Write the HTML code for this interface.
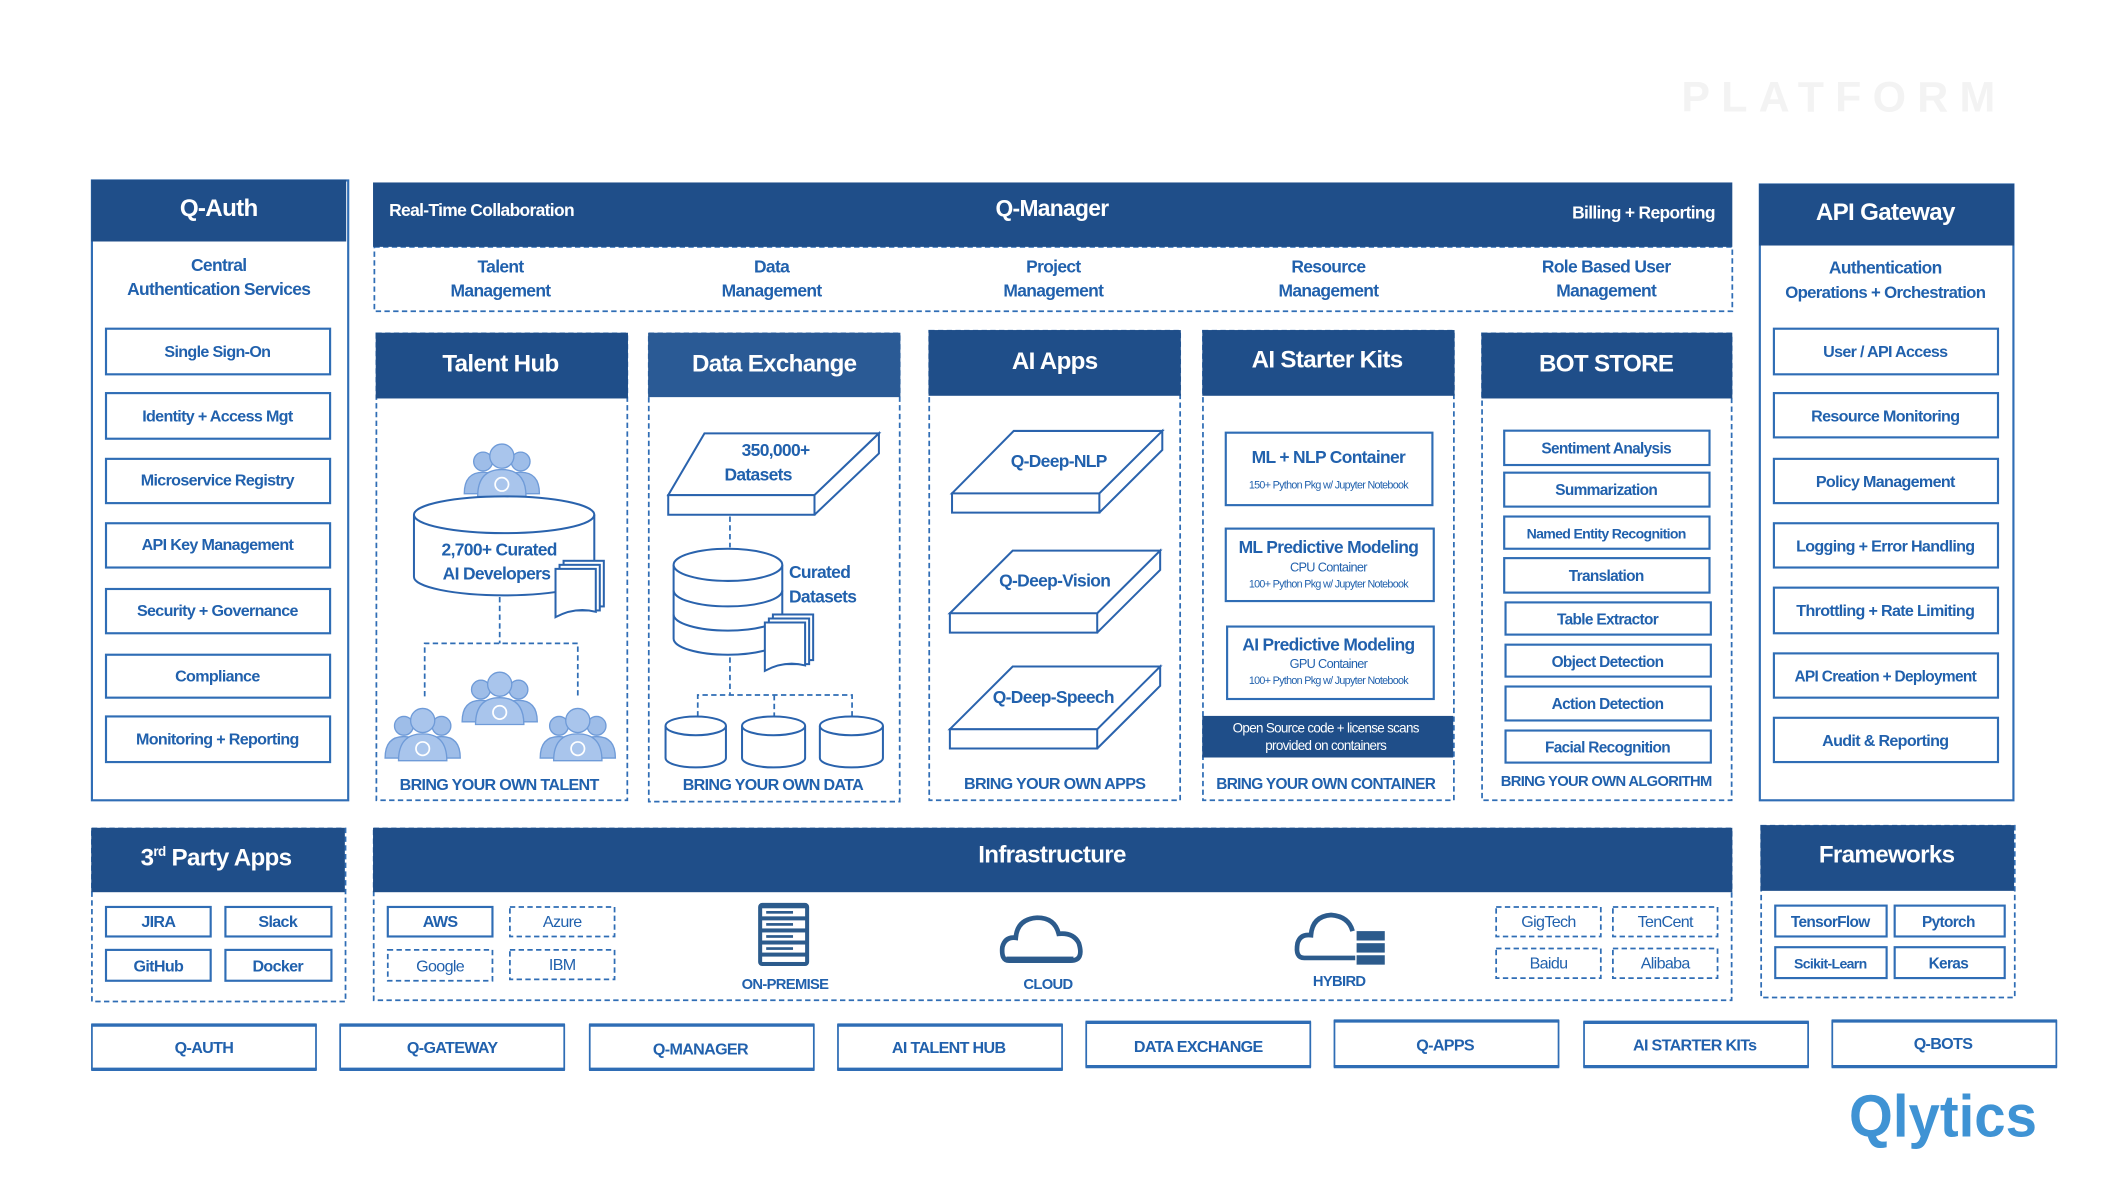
<!DOCTYPE html>
<html><head><meta charset="utf-8"><style>
html,body{margin:0;padding:0;background:#fff;}
svg{display:block}
text{font-family:"Liberation Sans Narrow","Liberation Sans",sans-serif;font-weight:bold;letter-spacing:-0.5px}
.h{fill:#fff;text-anchor:middle}
.t{fill:#2161ad;text-anchor:middle}
.hd{fill:#1f4e89}
.sb{fill:#fff;stroke:#2f6db5;stroke-width:1.6}
.db{fill:none;stroke:#2f6db5;stroke-width:1.3;stroke-dasharray:4 2.5}
.ln{fill:#fff;stroke:#2a63ad;stroke-width:1.5}
.pp{fill:#9ebde8;stroke:#6f9bd8;stroke-width:1}
</style></head><body>
<svg width="2104" height="1182" viewBox="0 0 1568 881" preserveAspectRatio="none" xmlns="http://www.w3.org/2000/svg">
<defs>
<g id="ppl">
 <circle cx="-14" cy="-6" r="7" class="pp"/><circle cx="14" cy="-6" r="7" class="pp"/>
 <path d="M-28 18 Q-28 2 -14 2 Q0 2 0 18Z" class="pp"/><path d="M0 18 Q0 2 14 2 Q28 2 28 18Z" class="pp"/>
 <circle cx="0" cy="-10" r="9" fill="#a9c5ec" stroke="#6f9bd8"/>
 <path d="M-18 20 Q-18 0 0 0 Q18 0 18 20Z" fill="#a9c5ec" stroke="#6f9bd8"/>
 <circle cx="0" cy="11" r="5" fill="none" stroke="#fff" stroke-width="1.3"/>
</g>
<g id="doc">
 <rect x="6" y="0" width="30" height="34" class="ln"/><rect x="3" y="3" width="30" height="34" class="ln"/>
 <path d="M0 6 H30 V38 Q15 34 0 42Z" class="ln"/>
</g>
</defs>

<text x="1376" y="83" style="font-size:32px;letter-spacing:12px;fill:#f3f3f3;text-anchor:middle;font-family:'Liberation Sans',sans-serif" textLength="246">PLATFORM</text>

<!-- Q-Auth -->
<rect x="68.5" y="134.5" width="191" height="462" fill="#fff" stroke="#2f6db5" stroke-width="1.6"/>
<rect x="68" y="134" width="190" height="46" class="hd"/>
<text x="163" y="161" class="h" font-size="18">Q-Auth</text>
<text x="163" y="202" class="t" font-size="13">Central</text>
<text x="163" y="220" class="t" font-size="13">Authentication Services</text>
<g font-size="12">
<rect x="79" y="245" width="167" height="34" class="sb"/><text x="162" y="266" class="t">Single Sign-On</text>
<rect x="79" y="293" width="167" height="34" class="sb"/><text x="162" y="314" class="t">Identity + Access Mgt</text>
<rect x="79" y="342" width="167" height="33" class="sb"/><text x="162" y="362" class="t">Microservice Registry</text>
<rect x="79" y="390" width="167" height="33" class="sb"/><text x="162" y="410" class="t">API Key Management</text>
<rect x="79" y="439" width="167" height="33" class="sb"/><text x="162" y="459" class="t">Security + Governance</text>
<rect x="79" y="488" width="167" height="32" class="sb"/><text x="162" y="508" class="t">Compliance</text>
<rect x="79" y="534" width="167" height="34" class="sb"/><text x="162" y="555" class="t">Monitoring + Reporting</text>
</g>

<!-- Q-Manager -->
<rect x="279" y="184" width="1012" height="48" class="db"/>
<rect x="278" y="136" width="1013" height="48" class="hd"/>
<text x="290" y="161" font-size="13" fill="#fff">Real-Time Collaboration</text>
<text x="784" y="161" class="h" font-size="17">Q-Manager</text>
<text x="1278" y="163" font-size="13" fill="#fff" text-anchor="end">Billing + Reporting</text>
<g font-size="13">
<text x="373" y="203" class="t">Talent</text><text x="373" y="221" class="t">Management</text>
<text x="575" y="203" class="t">Data</text><text x="575" y="221" class="t">Management</text>
<text x="785" y="203" class="t">Project</text><text x="785" y="221" class="t">Management</text>
<text x="990" y="203" class="t">Resource</text><text x="990" y="221" class="t">Management</text>
<text x="1197" y="203" class="t">Role Based User</text><text x="1197" y="221" class="t">Management</text>
</g>

<!-- Columns -->
<rect x="280.5" y="248.5" width="187" height="348" class="db"/>
<rect x="280" y="248" width="188" height="49" class="hd"/>
<text x="373" y="277" class="h" font-size="18">Talent Hub</text>
<rect x="483.5" y="248.5" width="187" height="349" class="db"/>
<rect x="483" y="248" width="188" height="48" fill="#2a5a95"/>
<text x="577" y="277" class="h" font-size="18">Data Exchange</text>
<rect x="692.5" y="246.5" width="187" height="350" class="db"/>
<rect x="692" y="246" width="188" height="49" class="hd"/>
<text x="786" y="275" class="h" font-size="18">AI Apps</text>
<rect x="896.5" y="246.5" width="187" height="350" class="db"/>
<rect x="896" y="246" width="188" height="49" class="hd"/>
<text x="989" y="274" class="h" font-size="18">AI Starter Kits</text>
<rect x="1104.5" y="248.5" width="186" height="348" class="db"/>
<rect x="1104" y="248" width="187" height="49" class="hd"/>
<text x="1197" y="277" class="h" font-size="18">BOT STORE</text>

<!-- Talent hub graphic -->
<use href="#ppl" x="374" y="350"/>
<path d="M308.5 383.7 V430 A67 13.7 0 0 0 442.9 430 V383.7" class="ln"/>
<ellipse cx="375.7" cy="383.7" rx="67.2" ry="13.7" fill="none" stroke="#2a63ad" stroke-width="1.5"/>
<text x="372" y="414" class="t" font-size="13">2,700+ Curated</text>
<text x="370" y="432" class="t" font-size="13">AI Developers</text>
<use href="#doc" x="414" y="418"/>
<path d="M372.4 445 V479.5 M316.5 519 V479.5 H430.6 V519" class="db"/>
<use href="#ppl" x="372.4" y="520"/>
<use href="#ppl" x="315" y="547"/>
<use href="#ppl" x="430.6" y="547"/>
<text x="372" y="589" class="t" font-size="12">BRING YOUR OWN TALENT</text>

<!-- Data exchange graphic -->
<path d="M525 323 H655 L607 369 H498Z" class="ln"/>
<path d="M498 369 H607 V383.7 H498Z M607 369 L655 323 V338 L607 383.7" class="ln"/>
<text x="578" y="340" class="t" font-size="13">350,000+</text>
<text x="565" y="358" class="t" font-size="13">Datasets</text>
<path d="M544 385 V408" class="db"/>
<path d="M502 421 V476 A40.5 12 0 0 0 583 476 V421" class="ln"/>
<path d="M502 440 A40.5 12 0 0 0 583 440 M502 458 A40.5 12 0 0 0 583 458" fill="none" stroke="#2a63ad" stroke-width="1.5"/>
<ellipse cx="542.5" cy="421" rx="40.5" ry="12" class="ln"/>
<use href="#doc" x="570" y="458"/>
<text x="588" y="431" font-size="13" fill="#2161ad">Curated</text>
<text x="588" y="449" font-size="13" fill="#2161ad">Datasets</text>
<path d="M544 490 V518 M520 534 V518 H635 V534 M577 518 V534" class="db"/>
<g>
<path d="M496 541 V565 A22.5 7 0 0 0 541 565 V541" class="ln"/><ellipse cx="518.5" cy="541" rx="22.5" ry="7" class="ln"/>
<path d="M553 541 V565 A23.5 7 0 0 0 600 565 V541" class="ln"/><ellipse cx="576.5" cy="541" rx="23.5" ry="7" class="ln"/>
<path d="M611 541 V565 A23.5 7 0 0 0 658 565 V541" class="ln"/><ellipse cx="634.5" cy="541" rx="23.5" ry="7" class="ln"/>
</g>
<text x="576" y="589" class="t" font-size="12">BRING YOUR OWN DATA</text>

<!-- AI Apps slabs -->
<path d="M755.5 321.2 H866.2 L819.3 367.7 H709.5Z M709.5 367.7 H819.3 V382.1 H709.5Z M819.3 367.7 L866.2 321.2 V335.4 L819.3 382.1" class="ln"/>
<text x="789" y="348" class="t" font-size="13">Q-Deep-NLP</text>
<path d="M754.7 410.4 H864.6 L817.7 457.1 H707.9Z M707.9 457.1 H817.7 V471.5 H707.9Z M817.7 457.1 L864.6 410.4 V424.8 L817.7 471.5" class="ln"/>
<text x="786" y="437" class="t" font-size="13">Q-Deep-Vision</text>
<path d="M754.7 496.8 H864.6 L817.7 543.5 H707.9Z M707.9 543.5 H817.7 V557.9 H707.9Z M817.7 543.5 L864.6 496.8 V511.2 L817.7 557.9" class="ln"/>
<text x="785" y="524" class="t" font-size="13">Q-Deep-Speech</text>
<text x="786" y="588" class="t" font-size="12">BRING YOUR OWN APPS</text>

<!-- Starter kits -->
<rect x="913.5" y="322.5" width="154" height="54" class="sb"/>
<text x="990" y="345" class="t" font-size="13">ML + NLP Container</text>
<text x="990" y="364" class="t" font-size="8" style="font-weight:normal">150+ Python Pkg w/ Jupyter Notebook</text>
<rect x="913.5" y="394" width="155" height="54" class="sb"/>
<text x="990" y="412" class="t" font-size="13">ML Predictive Modeling</text>
<text x="990" y="426" class="t" font-size="9.5" style="font-weight:normal">CPU Container</text>
<text x="990" y="438" class="t" font-size="8" style="font-weight:normal">100+ Python Pkg w/ Jupyter Notebook</text>
<rect x="914.5" y="467" width="154" height="54" class="sb"/>
<text x="990" y="485" class="t" font-size="13">AI Predictive Modeling</text>
<text x="990" y="498" class="t" font-size="9.5" style="font-weight:normal">GPU Container</text>
<text x="990" y="510" class="t" font-size="8" style="font-weight:normal">100+ Python Pkg w/ Jupyter Notebook</text>
<rect x="896" y="533.6" width="187" height="31" class="hd"/>
<text x="988" y="546" class="h" font-size="10" style="font-weight:normal">Open Source code + license scans</text>
<text x="988" y="559" class="h" font-size="10" style="font-weight:normal">provided on containers</text>
<text x="988" y="588" class="t" font-size="11.5">BRING YOUR OWN CONTAINER</text>

<!-- Bot store -->
<g font-size="11.5">
<rect x="1121" y="321" width="153" height="25.6" class="sb"/><text x="1197" y="338" class="t">Sentiment Analysis</text>
<rect x="1121" y="352.3" width="153" height="25.3" class="sb"/><text x="1197" y="369" class="t">Summarization</text>
<rect x="1121" y="385" width="153" height="24" class="sb"/><text x="1197" y="401.5" class="t" font-size="10.5">Named Entity Recognition</text>
<rect x="1121" y="416" width="153" height="25.7" class="sb"/><text x="1197" y="433" class="t">Translation</text>
<rect x="1122" y="449" width="153" height="24" class="sb"/><text x="1198" y="465.5" class="t">Table Extractor</text>
<rect x="1122" y="480.5" width="153" height="23.8" class="sb"/><text x="1198" y="497" class="t">Object Detection</text>
<rect x="1122" y="511.7" width="153" height="25.3" class="sb"/><text x="1198" y="528.5" class="t">Action Detection</text>
<rect x="1122" y="544.5" width="153" height="23.9" class="sb"/><text x="1198" y="561" class="t">Facial Recognition</text>
</g>
<text x="1197" y="586" class="t" font-size="11">BRING YOUR OWN ALGORITHM</text>

<!-- API Gateway -->
<rect x="1311.5" y="137.5" width="189" height="459" fill="#fff" stroke="#2f6db5" stroke-width="1.6"/>
<rect x="1311" y="137" width="190" height="46" class="hd"/>
<text x="1405" y="164" class="h" font-size="18">API Gateway</text>
<text x="1405" y="204" class="t" font-size="13">Authentication</text>
<text x="1405" y="222" class="t" font-size="12.5">Operations + Orchestration</text>
<g font-size="12">
<rect x="1322" y="245" width="167" height="34" class="sb"/><text x="1405" y="266" class="t">User / API Access</text>
<rect x="1322" y="293" width="167" height="33" class="sb"/><text x="1405" y="314" class="t">Resource Monitoring</text>
<rect x="1322" y="342" width="167" height="33" class="sb"/><text x="1405" y="363" class="t">Policy Management</text>
<rect x="1322" y="390" width="167" height="33" class="sb"/><text x="1405" y="411" class="t">Logging + Error Handling</text>
<rect x="1322" y="438" width="167" height="34" class="sb"/><text x="1405" y="459" class="t">Throttling + Rate Limiting</text>
<rect x="1322" y="487" width="167" height="33" class="sb"/><text x="1405" y="508" class="t" font-size="11.5">API Creation + Deployment</text>
<rect x="1322" y="535" width="167" height="33" class="sb"/><text x="1405" y="556" class="t">Audit &amp; Reporting</text>
</g>

<!-- 3rd party -->
<rect x="68.5" y="617.5" width="189" height="129" class="db"/>
<rect x="68" y="617" width="189" height="48" class="hd"/>
<text x="161" y="645" class="h" font-size="18">3<tspan font-size="10" dy="-7">rd</tspan><tspan dy="7"> Party Apps</tspan></text>
<g font-size="12">
<rect x="79" y="676" width="78" height="22" class="sb"/><text x="118" y="691" class="t">JIRA</text>
<rect x="168" y="676" width="79" height="22" class="sb"/><text x="207" y="691" class="t">Slack</text>
<rect x="79" y="708" width="78" height="23" class="sb"/><text x="118" y="724" class="t">GitHub</text>
<rect x="168" y="708" width="79" height="23" class="sb"/><text x="207" y="724" class="t">Docker</text>
</g>

<!-- Infrastructure -->
<rect x="278.5" y="617.5" width="1012" height="128" class="db"/>
<rect x="278" y="617" width="1013" height="48" class="hd"/>
<text x="784" y="643" class="h" font-size="18">Infrastructure</text>
<g font-size="12">
<rect x="289" y="676" width="78" height="22" class="sb"/><text x="328" y="691" class="t">AWS</text>
<rect x="380" y="676" width="78" height="22" class="db"/><text x="419" y="691" class="t" style="font-weight:normal">Azure</text>
<rect x="289" y="708" width="78" height="23" class="db"/><text x="328" y="724" class="t" style="font-weight:normal">Google</text>
<rect x="380" y="708" width="78" height="22" class="db"/><text x="419" y="723" class="t" style="font-weight:normal">IBM</text>
<rect x="1115" y="676" width="78" height="22" class="db"/><text x="1154" y="691" class="t" style="font-weight:normal">GigTech</text>
<rect x="1202" y="676" width="78" height="22" class="db"/><text x="1241" y="691" class="t" style="font-weight:normal">TenCent</text>
<rect x="1115" y="707" width="78" height="22" class="db"/><text x="1154" y="722" class="t" style="font-weight:normal">Baidu</text>
<rect x="1202" y="707" width="78" height="22" class="db"/><text x="1241" y="722" class="t" style="font-weight:normal">Alibaba</text>
</g>
<!-- server -->
<rect x="565" y="673" width="38" height="47" rx="3" fill="#2c5b8c"/>
<g fill="#fff"><rect x="568" y="677" width="32" height="6"/><rect x="568" y="686" width="32" height="6"/><rect x="568" y="695" width="32" height="6"/><rect x="568" y="704" width="32" height="6"/><rect x="568" y="713" width="32" height="4"/></g>
<g fill="#2c5b8c"><rect x="571" y="679" width="20" height="2"/><rect x="571" y="688" width="20" height="2"/><rect x="571" y="697" width="20" height="2"/><rect x="571" y="706" width="20" height="2"/></g>
<text x="585" y="737" class="t" font-size="11">ON-PREMISE</text>
<!-- cloud -->
<path d="M752 716 Q746 716 747 706 Q749 698 757 699 Q758 685 773 684 Q786 684 789 696 Q800 695 804 703 Q808 716 798 716Z" fill="none" stroke="#2c5b8c" stroke-width="3.5"/>
<rect x="750" y="713" width="50" height="4" fill="#2c5b8c"/>
<text x="781" y="737" class="t" font-size="11">CLOUD</text>
<!-- hybrid -->
<path d="M1010 714 H972 Q965 714 967 703 Q969 696 977 697 Q978 683 992 682 Q1005 683 1008 694" fill="none" stroke="#2c5b8c" stroke-width="3.5"/>
<g fill="#2c5b8c"><rect x="1011" y="694" width="21" height="7"/><rect x="1011" y="703" width="21" height="7"/><rect x="1011" y="712" width="21" height="7"/></g>
<text x="998" y="735" class="t" font-size="11">HYBIRD</text>

<!-- Frameworks -->
<rect x="1312.5" y="615.5" width="189" height="128" class="db"/>
<rect x="1312" y="615" width="189" height="49" class="hd"/>
<text x="1406" y="643" class="h" font-size="18">Frameworks</text>
<g font-size="11.5">
<rect x="1323" y="675" width="83" height="23" class="sb"/><text x="1364" y="691" class="t">TensorFlow</text>
<rect x="1412" y="675" width="82" height="23" class="sb"/><text x="1452" y="691" class="t">Pytorch</text>
<rect x="1323" y="706" width="83" height="23" class="sb"/><text x="1364" y="722" class="t" font-size="10.5">Scikit-Learn</text>
<rect x="1412" y="706" width="82" height="23" class="sb"/><text x="1452" y="722" class="t">Keras</text>
</g>

<!-- Bottom row -->
<g font-size="12">
<rect x="68.5" y="764" width="167" height="33" fill="#fff" stroke="#2f6db5" stroke-width="1.3"/><path d="M68 764H236M68 797H236" stroke="#2f6db5" stroke-width="2.5"/><text x="152" y="785" class="t">Q-AUTH</text>
<rect x="253.5" y="764" width="167" height="33" fill="#fff" stroke="#2f6db5" stroke-width="1.3"/><path d="M253 764H421M253 797H421" stroke="#2f6db5" stroke-width="2.5"/><text x="337" y="785" class="t">Q-GATEWAY</text>
<rect x="439.5" y="764" width="167" height="33" fill="#fff" stroke="#2f6db5" stroke-width="1.3"/><path d="M439 764H607M439 797H607" stroke="#2f6db5" stroke-width="2.5"/><text x="522" y="786" class="t">Q-MANAGER</text>
<rect x="624.5" y="764" width="167" height="33" fill="#fff" stroke="#2f6db5" stroke-width="1.3"/><path d="M624 764H792M624 797H792" stroke="#2f6db5" stroke-width="2.5"/><text x="707" y="785" class="t">AI TALENT HUB</text>
<rect x="809.5" y="762" width="167" height="33" fill="#fff" stroke="#2f6db5" stroke-width="1.3"/><path d="M809 762H977M809 795H977" stroke="#2f6db5" stroke-width="2.5"/><text x="893" y="784" class="t">DATA EXCHANGE</text>
<rect x="994.5" y="761" width="167" height="34" fill="#fff" stroke="#2f6db5" stroke-width="1.3"/><path d="M994 761H1162M994 795H1162" stroke="#2f6db5" stroke-width="2.5"/><text x="1077" y="783" class="t">Q-APPS</text>
<rect x="1180.5" y="762" width="167" height="33" fill="#fff" stroke="#2f6db5" stroke-width="1.3"/><path d="M1180 762H1348M1180 795H1348" stroke="#2f6db5" stroke-width="2.5"/><text x="1263" y="783" class="t">AI STARTER KITs</text>
<rect x="1365.5" y="761" width="167" height="34" fill="#fff" stroke="#2f6db5" stroke-width="1.3"/><path d="M1365 761H1533M1365 795H1533" stroke="#2f6db5" stroke-width="2.5"/><text x="1448" y="782" class="t">Q-BOTS</text>
</g>

<!-- logo -->
<text x="1378" y="847" font-size="44" fill="#3f93d4" style="font-family:'Liberation Sans',sans-serif;font-weight:bold;letter-spacing:0" textLength="140" lengthAdjust="spacingAndGlyphs">Qlytics</text>
</svg>
</body></html>
